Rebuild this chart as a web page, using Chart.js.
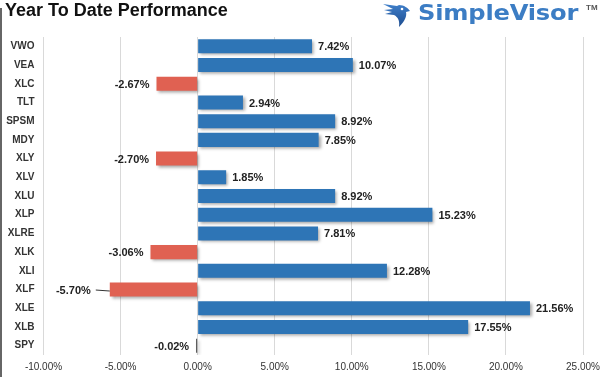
<!DOCTYPE html>
<html>
<head>
<meta charset="utf-8">
<script src="https://cdn.jsdelivr.net/npm/chart.js@4.4.1/dist/chart.umd.min.js"></script>
<style>
  body { margin: 0; background: #fff; }
  #wrap { position: relative; width: 610px; height: 377px; overflow: hidden; }
  #chart { position: absolute; left: 0; top: 0; }
  .edge { position: absolute; left: 0; top: 8px; width: 2px; height: 369px; background: #666; }
  .title { position: absolute; left: 5px; top: 1px; font: bold 18px/18px "Liberation Sans", Arial, sans-serif; color: #111; white-space: nowrap; }
  .logo { position: absolute; left: 418px; top: 2px; font: bold 22px/22px "DejaVu Sans", sans-serif; color: #3c7dc4; white-space: nowrap; transform: scaleX(1.1); transform-origin: left top; letter-spacing: -0.2px; }
  .tm { position: absolute; left: 586px; top: 4px; font: bold 8px/8px "Liberation Sans", Arial, sans-serif; color: #555; }
  .eagle { position: absolute; left: 381px; top: 2px; }
</style>
</head>
<body>
<div id="wrap">
  <canvas id="chart" width="610" height="377"></canvas>
  <div class="edge"></div>
  <div class="title">Year To Date Performance</div>
  <svg class="eagle" width="32" height="26" viewBox="0 0 32 26">
    <defs>
      <linearGradient id="eg" x1="0" y1="0" x2="0" y2="1">
        <stop offset="0" stop-color="#3f7fca"/>
        <stop offset="1" stop-color="#1d4c8f"/>
      </linearGradient>
    </defs>
    <path d="M2 2 L16 4 L18 3 C23 3 27 6 29 9 L25 10 C26 14 24 19 18 25 C19 19 17 15 13 13 L4 12 L11 10 L3 8 L12 7 Z" fill="url(#eg)"/>
    <circle cx="21" cy="7" r="1.3" fill="#fff"/>
  </svg>
  <div class="logo">SimpleVisor</div>
  <div class="tm">TM</div>
</div>
<script>
// chart values
const categories = ['VWO', 'VEA', 'XLC', 'TLT', 'SPSM', 'MDY', 'XLY', 'XLV', 'XLU', 'XLP', 'XLRE', 'XLK', 'XLI', 'XLF', 'XLE', 'XLB', 'SPY'];
const ytdReturns = [7.42, 10.07, -2.67, 2.94, 8.92, 7.85, -2.70, 1.85, 8.92, 15.23, 7.81, -3.06, 12.28, -5.70, 21.56, 17.55, -0.02];
const xTicks = [-10, -5, 0, 5, 10, 15, 20, 25];

const BLUE = '#2e75b6';
const RED = '#e06152';
const FONT = '"Liberation Sans", Arial, sans-serif';

// soft drop shadow under the bars
const barShadow = {
    id: 'barShadow',
    beforeDatasetsDraw(chart) {
        const ctx = chart.ctx;
        ctx.save();
        ctx.shadowColor = 'rgba(0,0,0,0.35)';
        ctx.shadowBlur = 3;
        ctx.shadowOffsetX = 2;
        ctx.shadowOffsetY = 2;
    },
    afterDatasetsDraw(chart) {
        chart.ctx.restore();
    }
};

// value labels at the end of each bar
const valueLabels = {
    id: 'valueLabels',
    afterDraw(chart, args, opts) {
        const ctx = chart.ctx;
        const meta = chart.getDatasetMeta(0);
        ctx.save();
        ctx.font = 'bold 11px ' + FONT;
        ctx.fillStyle = '#222';
        ctx.textBaseline = 'middle';
        meta.data.forEach((bar, i) => {
            const v = ytdReturns[i];
            const text = v.toFixed(2) + '%';
            const y = bar.y + 1;
            if (v >= 0) {
                ctx.textAlign = 'left';
                ctx.fillText(text, bar.x + 6, y);
            } else {
                const lead = opts.leader[categories[i]];
                ctx.textAlign = 'right';
                if (lead) {
                    ctx.strokeStyle = '#333';
                    ctx.lineWidth = 1;
                    ctx.beginPath();
                    ctx.moveTo(bar.x - 14, y - 0.5);
                    ctx.lineTo(bar.x, y + 0.5);
                    ctx.stroke();
                    ctx.fillText(text, bar.x - lead, y);
                } else {
                    ctx.fillText(text, bar.x - 7, y);
                }
            }
        });
        ctx.restore();
    }
};

const ctx = document.getElementById('chart').getContext('2d');
new Chart(ctx, {
    type: 'bar',
    data: {
        labels: categories,
        datasets: [{
            data: ytdReturns,
            // near-zero bars show up as a thin dark sliver
            backgroundColor: c => (Math.abs(c.raw) < 0.1 ? '#444' : c.raw < 0 ? RED : BLUE),
            borderWidth: 0,
            minBarLength: 1.5,
            barPercentage: 0.75,
            categoryPercentage: 1
        }]
    },
    options: {
        indexAxis: 'y',
        responsive: false,
        animation: false,
        layout: { padding: { top: 37, right: 27, left: 0, bottom: 0 } },
        plugins: {
            legend: { display: false },
            tooltip: { enabled: false },
            valueLabels: { leader: { XLF: 19 } }
        },
        scales: {
            x: {
                min: -10,
                max: 25,
                afterBuildTicks: s => { s.ticks = xTicks.map(v => ({ value: v })); },
                afterFit: s => { s.height = 22; },
                ticks: {
                    callback: v => v.toFixed(2) + '%',
                    font: { family: FONT, size: 10 },
                    color: '#333',
                    padding: 6,
                    maxRotation: 0
                },
                grid: { color: '#d9d9d9', drawTicks: false },
                border: { display: false }
            },
            y: {
                afterFit: s => { s.width = 43.5; },
                ticks: {
                    font: { family: FONT, size: 10, weight: 'bold' },
                    color: '#333',
                    padding: 9
                },
                grid: { display: false, drawTicks: false },
                border: { display: false }
            }
        }
    },
    plugins: [barShadow, valueLabels]
});
</script>
</body>
</html>
